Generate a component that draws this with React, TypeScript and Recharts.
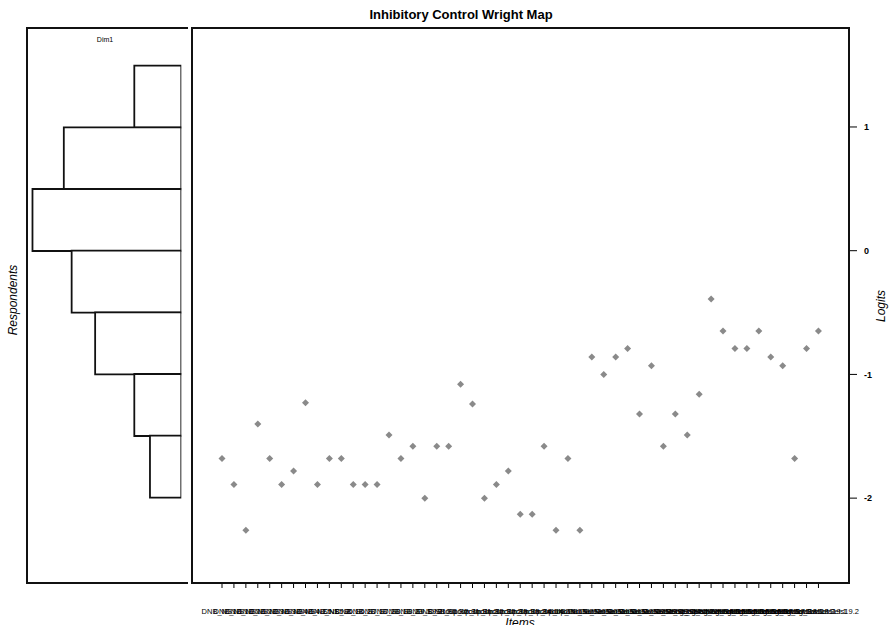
import React from 'react';
import { BarChart, Bar, ScatterChart, Scatter, XAxis, YAxis } from 'recharts';

// respondent histogram, top bin first (logit bins of 0.5)
const binLabels = ['1.0 to 1.5', '0.5 to 1.0', '0.0 to 0.5', '-0.5 to 0.0', '-1.0 to -0.5', '-1.5 to -1.0', '-2.0 to -1.5'];
const binCounts = [6, 15, 19, 14, 11, 6, 4];

// item names and difficulties (logits)
const items = [
  'DNB_NS1.1', 'DNB_NS1.2', 'DNB_NS2.1', 'DNB_NS2.2', 'DNB_NS3.1', 'DNB_NS3.2', 'DNB_NS4.1', 'DNB_NS4.2', 'DNB_NS5.1', 'DNB_NS5.2',
  'DNB_S6.1', 'DNB_S6.2', 'DNB_S7.1', 'DNB_S7.2', 'DNB_S8.1', 'DNB_S8.2', 'DNB_S9.1', 'DNB_S9.2', 'DNB_S10.1', 'DNB_S10.2',
  'Stroop_Inc11.1', 'Stroop_Inc11.2', 'Stroop_Inc12.1', 'Stroop_Inc12.2', 'Stroop_Inc13.1', 'Stroop_Inc13.2', 'Stroop_Inc14.1', 'Stroop_Inc14.2', 'Stroop_Inc15.1', 'Stroop_Inc15.2',
  'GoNoGo_Sets10.1', 'GoNoGo_Sets10.2', 'GoNoGo_Sets11.1', 'GoNoGo_Sets11.2', 'GoNoGo_Sets12.1', 'GoNoGo_Sets12.2', 'GoNoGo_Sets13.1', 'GoNoGo_Sets13.2', 'GoNoGo_Sets14.1', 'GoNoGo_Sets14.2',
  'Shifting_SwitchSets14.2', 'Shifting_SwitchSets15.1', 'Shifting_SwitchSets15.2', 'Shifting_SwitchSets16.1', 'Shifting_SwitchSets16.2', 'Shifting_SwitchSets17.1',
  'Shifting_SwitchSets17.2', 'Shifting_SwitchSets18.1', 'Shifting_SwitchSets18.2', 'Shifting_SwitchSets19.1', 'Shifting_SwitchSets19.2',
];
const itemLogits = [
  -1.68, -1.89, -2.26, -1.40, -1.68, -1.89, -1.78, -1.23, -1.89, -1.68,
  -1.68, -1.89, -1.89, -1.89, -1.49, -1.68, -1.58, -2.00, -1.58, -1.58,
  -1.08, -1.24, -2.00, -1.89, -1.78, -2.13, -2.13, -1.58, -2.26, -1.68,
  -2.26, -0.86, -1.00, -0.86, -0.79, -1.32, -0.93, -1.58, -1.32, -1.49,
  -1.16, -0.39, -0.65, -0.79, -0.79, -0.65, -0.86, -0.93, -1.68, -0.79, -0.65,
];
const logitTicks = [-2, -1, 0, 1];

const histData = binLabels.map((bin, i) => ({ bin, count: binCounts[i] }));
const itemData = items.map((name, i) => ({ x: i + 1, y: itemLogits[i], name }));
const itemTicks = items.map((_, i) => i + 1);

const font = "'Liberation Sans', Arial, sans-serif";

const Diamond = (props: any) => {
  const { cx, cy } = props;
  const r = 3.5;
  return <polygon points={`${cx},${cy - r} ${cx + r},${cy} ${cx},${cy + r} ${cx - r},${cy}`} fill="#8a8a8a" />;
};

const ItemTick = (props: any) => {
  const { x, y, payload } = props;
  return (
    <text x={x} y={y} dy="0.71em" textAnchor="middle" fontSize={7.5} fill="#000" fontFamily={font}>
      {items[payload.value - 1]}
    </text>
  );
};

export default function App() {
  return (
    <div style={{ position: 'absolute', left: 0, top: 0, width: 891, height: 625, background: '#fff', fontFamily: font }}>
      <div style={{ position: 'absolute', left: 0, top: 0 }}>
        <BarChart
          width={200}
          height={625}
          layout="vertical"
          data={histData}
          barCategoryGap={0}
          margin={{ top: 65.7, right: 18.7, bottom: 127.7, left: 27 }}
        >
          <XAxis type="number" hide domain={[0, 19.7]} reversed allowDataOverflow />
          <YAxis type="category" dataKey="bin" hide />
          <Bar dataKey="count" fill="#fff" stroke="#111" strokeWidth={1.8} isAnimationActive={false} />
        </BarChart>
      </div>
      <div style={{ position: 'absolute', left: 0, top: 0 }}>
        <ScatterChart width={891} height={625} margin={{ top: 28, right: 0, bottom: 0, left: 192 }}>
          <XAxis
            type="number"
            dataKey="x"
            domain={[-1.515, 53.56]}
            ticks={itemTicks}
            interval={0}
            allowDataOverflow
            height={42}
            axisLine={false}
            stroke="#000"
            tickSize={5}
            tickMargin={21}
            tick={<ItemTick />}
          />
          <YAxis
            type="number"
            dataKey="y"
            orientation="right"
            domain={[-2.686, 1.8]}
            ticks={logitTicks}
            allowDataOverflow
            width={42}
            axisLine={false}
            stroke="#000"
            tickSize={8}
            tickMargin={7}
            tick={{ fill: '#000', fontSize: 9, fontWeight: 700, fontFamily: font }}
          />
          <Scatter data={itemData} shape={<Diamond />} isAnimationActive={false} />
        </ScatterChart>
      </div>
      <svg width={891} height={625} style={{ position: 'absolute', left: 0, top: 0, pointerEvents: 'none' }}>
        <path d="M188,28 H27 V583 H188" fill="none" stroke="#111" strokeWidth={2} />
        <rect x={192} y={28} width={657} height={555} fill="none" stroke="#111" strokeWidth={2} />
        <text x={461} y={19} textAnchor="middle" fontSize={13} fontWeight={700} fill="#000" fontFamily={font}>
          Inhibitory Control Wright Map
        </text>
        <text x={105} y={41.5} textAnchor="middle" fontSize={7} fill="#000" fontFamily={font}>Dim1</text>
        <text x={17} y={300} transform="rotate(-90 17 300)" textAnchor="middle" fontSize={12} fontStyle="italic" fill="#000" fontFamily={font}>
          Respondents
        </text>
        <text x={885} y={306} transform="rotate(-90 885 306)" textAnchor="middle" fontSize={12} fontStyle="italic" fill="#000" fontFamily={font}>
          Logits
        </text>
        <text x={520} y={627} textAnchor="middle" fontSize={12} fontStyle="italic" fill="#000" fontFamily={font}>Items</text>
      </svg>
    </div>
  );
}
